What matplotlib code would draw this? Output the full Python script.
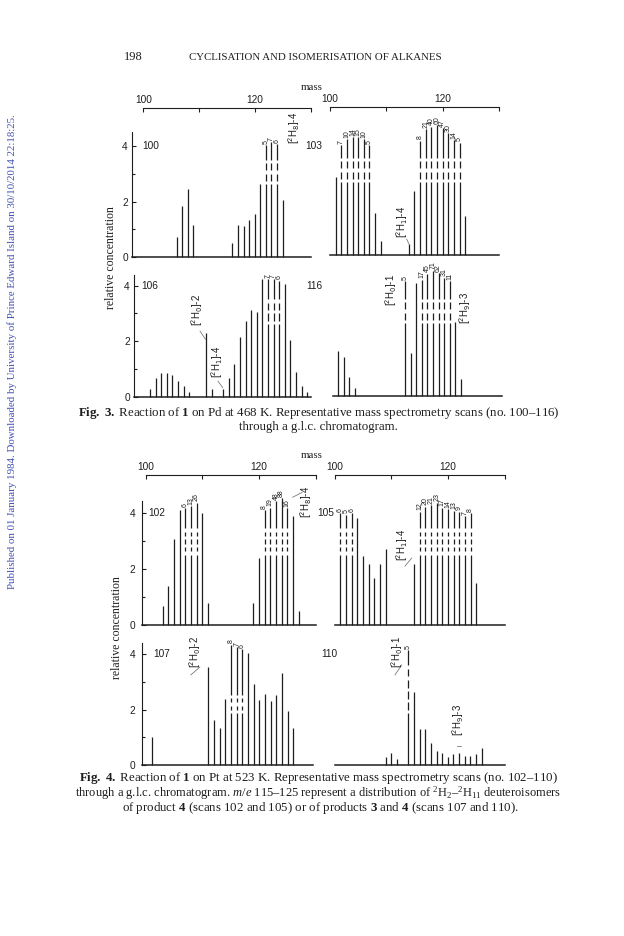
import matplotlib
matplotlib.use("Agg")
import matplotlib.pyplot as plt

# ---------------------------------------------------------------- data
mass_ticks = [100, 110, 120, 130]
mass_ticklabels = ["100", "", "120", ""]
conc_ticks = [0, 2, 4]
conc_minor = [1, 3]

# Fig. 3, scan 100 (top left)
scan100_mass = [106, 107, 108, 109, 116, 117, 118, 119, 120, 121, 122, 123, 124, 125]
scan100_int = [0.72, 1.83, 2.44, 1.14, 0.52, 1.17, 1.12, 1.35, 1.54, 2.64, 4.02, 4.14, 4.06, 2.04]
scan100_lab = ["", "", "", "", "", "", "", "", "", "", "5", "7", "6", ""]

# Fig. 3, scan 103 (top right)
scan103_mass = [101, 102, 103, 104, 105, 106, 107, 108, 109,
                114, 115, 116, 117, 118, 119, 120, 121, 122, 123, 124]
scan103_int = [2.80, 3.96, 4.17, 4.24, 4.24, 4.17, 3.96, 1.50, 0.49,
               0.38, 2.31, 4.11, 4.54, 4.62, 4.67, 4.56, 4.38, 4.14, 4.05, 1.41]
scan103_lab = ["", "7", "10", "14", "15", "10", "5", "", "",
               "", "", "8", "21", "40", "60", "47", "30", "14", "5", ""]

# Fig. 3, scan 106 (bottom left)
scan106_mass = [101, 102, 103, 104, 105, 106, 107, 108, 111, 112,
                114, 115, 116, 117, 118, 119, 120, 121, 122, 123, 124, 125, 126, 127, 128, 129]
scan106_int = [0.28, 0.66, 0.87, 0.87, 0.77, 0.57, 0.37, 0.16, 2.31, 0.28,
               0.28, 0.69, 1.19, 2.14, 2.71, 3.12, 3.04, 4.22, 4.22, 4.22, 4.18, 4.06, 2.04, 0.88, 0.40, 0.18]
scan106_lab = ["", "", "", "", "", "", "", "", "", "",
               "", "", "", "", "", "", "", "", "7", "7", "6", "", "", "", "", ""]

# Fig. 3, scan 116 (bottom right)
scan116_mass = [101, 102, 103, 104, 113, 114, 115, 116, 117, 118, 119, 120, 121, 122, 123]
scan116_int = [1.60, 1.40, 0.70, 0.30, 4.13, 1.53, 4.05, 4.18, 4.40, 4.50, 4.42, 4.25, 4.13, 2.65, 0.60]
scan116_lab = ["", "", "", "", "5", "", "", "17", "45", "71", "62", "31", "11", "", ""]

# Fig. 4, scan 102 (top left)
scan102_mass = [103, 104, 105, 106, 107, 108, 109, 110, 111,
                119, 120, 121, 122, 123, 124, 125, 126, 127]
scan102_int = [0.68, 1.41, 3.10, 4.12, 4.18, 4.26, 4.39, 4.02, 0.78,
               0.78, 2.39, 4.12, 4.20, 4.44, 4.54, 4.18, 3.90, 0.50]
scan102_lab = ["", "", "", "", "6", "13", "26", "", "",
               "", "", "8", "19", "48", "88", "16", "", ""]

# Fig. 4, scan 105 (top right)
scan105_mass = [101, 102, 103, 104, 105, 106, 107, 108, 109,
                114, 115, 116, 117, 118, 119, 120, 121, 122, 123, 124, 125]
scan105_int = [4.00, 3.96, 4.00, 3.82, 2.47, 2.19, 1.67, 2.17, 2.71,
               2.17, 4.06, 4.24, 4.30, 4.39, 4.21, 4.14, 4.10, 4.06, 3.90, 4.00, 1.49]
scan105_lab = ["6", "5", "6", "", "", "", "", "", "",
               "", "12", "20", "21", "23", "17", "14", "13", "9", "7", "8", ""]

# Fig. 4, scan 107 (bottom left)
scan107_mass = [101, 111, 112, 113, 114, 115, 116, 117, 118, 119, 120, 121, 122, 123, 124, 125, 126]
scan107_int = [1.02, 3.53, 1.63, 1.33, 2.37, 4.34, 4.25, 4.18, 4.04, 2.93, 2.33, 2.55, 2.31, 2.53, 3.31, 1.93, 1.33]
scan107_lab = ["", "", "", "", "", "8", "7", "6", "", "", "", "", "", "", "", "", ""]

# Fig. 4, scan 110 (bottom right)
scan110_mass = [109, 110, 111, 113, 114, 115, 116, 117, 118, 119, 120, 121, 122, 123, 124, 125, 126]
scan110_int = [0.30, 0.42, 0.20, 4.15, 2.65, 1.30, 1.30, 0.80, 0.50, 0.42, 0.30, 0.40, 0.42, 0.33, 0.33, 0.40, 0.60]
scan110_lab = ["", "", "", "5", "", "", "", "", "", "", "", "", "", "", "", "", ""]

# ---------------------------------------------------------------- style
W, H = 624, 936
INK = "#1e1e1e"
LEAD = "#707070"

plt.rcParams["font.family"] = ["Liberation Sans", "DejaVu Sans"]
plt.rcParams["mathtext.fontset"] = "custom"
plt.rcParams["mathtext.rm"] = "Liberation Serif"
plt.rcParams["mathtext.it"] = "Liberation Serif:italic"
plt.rcParams["mathtext.bf"] = "Liberation Serif:bold"

fig = plt.figure(figsize=(W / 100, H / 100), dpi=100)
fig.patch.set_facecolor("white")


def P(x, y):
    return x / W, 1 - y / H


def make_panel(l, r, t, b, xlim, ylim):
    ax = fig.add_axes([l / W, 1 - b / H, (r - l) / W, (b - t) / H])
    ax.set_xlim(*xlim)
    ax.set_ylim(*ylim)
    ax.patch.set_visible(False)
    for side in ("left", "right", "top"):
        ax.spines[side].set_visible(False)
    ax.spines["bottom"].set_linewidth(1.1)
    ax.spines["bottom"].set_color(INK)
    ax.set_xticks([])
    ax.set_yticks([])
    return ax


def top_scale(ax, pad):
    sp = ax.spines["top"]
    sp.set_visible(True)
    sp.set_bounds(100, 130)
    sp.set_linewidth(0.8)
    sp.set_color(INK)
    ax.xaxis.set_ticks_position("top")
    ax.set_xticks(mass_ticks)
    ax.set_xticklabels(mass_ticklabels)
    ax.tick_params(axis="x", direction="in", length=3.2, width=0.8, pad=pad,
                   labelsize=7.3, colors=INK)


def left_scale(ax, top, pad):
    sp = ax.spines["left"]
    sp.set_visible(True)
    sp.set_bounds(0, top)
    sp.set_linewidth(0.8)
    sp.set_color(INK)
    ax.set_yticks(conc_ticks)
    ax.set_yticks(conc_minor, minor=True)
    ax.tick_params(axis="y", which="major", direction="in", length=3.0, width=0.8,
                   pad=pad, labelsize=7.3, colors=INK)
    ax.tick_params(axis="y", which="minor", direction="in", length=2.0, width=0.8, colors=INK)


def draw_scan(ax, mass, inten, lab, brk):
    lo, hi, n = brk
    xs, y0s, y1s = [], [], []
    for m, h, t in zip(mass, inten, lab):
        if t:
            g = 0.12
            d = (hi - lo - (n + 1) * g) / n
            segs = [(0, lo)]
            y = lo + g
            for _ in range(n):
                segs.append((y, y + d))
                y += d + g
            segs.append((hi, h))
            for a, b in segs:
                xs.append(m)
                y0s.append(a)
                y1s.append(b)
            ax.annotate(t, (m, h), xytext=(0, 1.0), textcoords="offset points",
                        rotation=90, ha="center", va="bottom", fontsize=5.0,
                        color=INK, annotation_clip=False)
        else:
            xs.append(m)
            y0s.append(0)
            y1s.append(h)
    ax.vlines(xs, y0s, y1s, colors=INK, lw=0.9, clip_on=False)


def scan_label(ax, s, x, y):
    ax.text(x, y, s, ha="center", va="center", fontsize=7.3, color=INK)


def bracket(ax, s, x, y):
    ax.text(x, y, s, rotation=90, ha="center", va="center", fontsize=7.0,
            color=INK, math_fontfamily="dejavusans")


def leader(ax, x0, y0, x1, y1):
    ax.plot([x0, x1], [y0, y1], color=LEAD, lw=0.55, clip_on=False)


# ---------------------------------------------------------------- Fig. 3
ax1 = make_panel(132, 310.5, 108, 257, (97.97, 130.0), (0, 5.37))
top_scale(ax1, 2.5)
left_scale(ax1, 4.5, 3.0)
draw_scan(ax1, scan100_mass, scan100_int, scan100_lab, (2.62, 3.50, 2))
scan_label(ax1, "100", 101.4, 4.0)
bracket(ax1, "[$^2$H$_8$]-4", 127.06, 4.66)

ax2 = make_panel(330, 499, 107, 255, (100, 130), (0, 5.33))
top_scale(ax2, 2.5)
draw_scan(ax2, scan103_mass, scan103_int, scan103_lab, (2.62, 3.50, 2))
scan_label(ax2, "103", 97.16, 3.93)
bracket(ax2, "[$^2$H$_1$]-4", 112.78, 1.19)
leader(ax2, 113.62, 0.57, 114.0, 0.40)

ax3 = make_panel(134, 310.7, 275, 396.7, (98.15, 129.6), (0, 4.38))
left_scale(ax3, 4.38, 3.0)
draw_scan(ax3, scan106_mass, scan106_int, scan106_lab, (2.62, 3.50, 2))
scan_label(ax3, "106", 101.0, 3.98)
bracket(ax3, "[$^2$H$_0$]-2", 109.36, 3.12)
leader(ax3, 109.9, 2.36, 110.9, 2.06)
bracket(ax3, "[$^2$H$_1$]-4", 112.92, 1.25)
leader(ax3, 113.1, 0.56, 113.95, 0.32)

ax4 = make_panel(332.7, 501.5, 275, 396, (100, 130.3), (0, 4.35))
draw_scan(ax4, scan116_mass, scan116_int, scan116_lab, (2.62, 3.50, 2))
scan_label(ax4, "116", 96.64, 3.96)
bracket(ax4, "[$^2$H$_0$]-1", 110.47, 3.81)
bracket(ax4, "[$^2$H$_9$]-3", 123.75, 3.17)

# ---------------------------------------------------------------- Fig. 4
ax5 = make_panel(142, 315.6, 475, 625, (99.38, 130.0), (0, 5.376))
top_scale(ax5, 2.0)
left_scale(ax5, 4.43, 5.0)
draw_scan(ax5, scan102_mass, scan102_int, scan102_lab, (2.52, 3.47, 3))
scan_label(ax5, "102", 102.03, 4.01)
bracket(ax5, "[$^2$H$_8$]-4", 128.3, 4.41)
leader(ax5, 125.96, 4.58, 127.6, 4.75)

ax6 = make_panel(334.8, 504.6, 475, 625, (100, 130), (0, 5.376))
top_scale(ax6, 2.0)
draw_scan(ax6, scan105_mass, scan105_int, scan105_lab, (2.52, 3.47, 3))
scan_label(ax6, "105", 98.45, 4.01)
bracket(ax6, "[$^2$H$_1$]-4", 111.87, 2.87)
leader(ax6, 112.4, 2.11, 113.59, 2.40)

ax7 = make_panel(142, 313, 643.3, 765, (99.29, 129.48), (0, 4.39))
left_scale(ax7, 4.39, 5.0)
draw_scan(ax7, scan107_mass, scan107_int, scan107_lab, (1.87, 2.53, 2))
scan_label(ax7, "107", 102.82, 4.0)
bracket(ax7, "[$^2$H$_0$]-2", 108.65, 4.08)
leader(ax7, 107.9, 3.25, 109.5, 3.53)

ax8 = make_panel(334.9, 505, 643.3, 765, (100, 130.12), (0, 4.39))
draw_scan(ax8, scan110_mass, scan110_int, scan110_lab, (1.87, 3.60, 4))
scan_label(ax8, "110", 98.95, 4.0)
bracket(ax8, "[$^2$H$_0$]-1", 111.09, 4.08)
leader(ax8, 110.64, 3.25, 111.83, 3.61)
bracket(ax8, "[$^2$H$_9$]-3", 121.85, 1.64)
leader(ax8, 121.6, 0.69, 122.4, 0.69)

# ---------------------------------------------------------------- page text
SERIF = "Liberation Serif"
fig.text(*P(312, 87), "mass", ha="center", va="center", family=SERIF, size=7.8, color=INK)
fig.text(*P(312, 455), "mass", ha="center", va="center", family=SERIF, size=7.8, color=INK)
fig.text(*P(111, 258), "relative concentration", rotation=90, ha="center", va="center",
         family=SERIF, size=8.5, color=INK)
fig.text(*P(117, 628), "relative concentration", rotation=90, ha="center", va="center",
         family=SERIF, size=8.5, color=INK)

fig.text(*P(133, 57), "198", ha="center", va="center", family=SERIF, size=9, color=INK)
head = fig.text(*P(315, 57), "CYCLISATION AND ISOMERISATION OF ALKANES", ha="center",
                va="center", family=SERIF, size=7.5, color=INK)
wm = fig.text(*P(12, 352),
              "Published on 01 January 1984. Downloaded by University of Prince Edward Island on 30/10/2014 22:18:25.",
              rotation=90, ha="center", va="center", family=SERIF, size=7, color="#3f4fb2")

cap_kw = dict(ha="center", va="center", family=SERIF, size=8.3, color=INK)
c31 = fig.text(*P(318.5, 413), r"$\mathbf{Fig.\ 3.}$ Reaction of $\mathbf{1}$ on Pd at 468 K. "
               r"Representative mass spectrometry scans (no. 100–116)", **cap_kw)
c32 = fig.text(*P(318.5, 427), "through a g.l.c. chromatogram.", **cap_kw)
c41 = fig.text(*P(318.5, 778), r"$\mathbf{Fig.\ 4.}$ Reaction of $\mathbf{1}$ on Pt at 523 K. "
               r"Representative mass spectrometry scans (no. 102–110)", **cap_kw)
c42 = fig.text(*P(318.5, 793), r"through a g.l.c. chromatogram. $m/e$ 115–125 represent a distribution "
               r"of $^{2}$H$_{2}$–$^{2}$H$_{11}$ deuteroisomers", **cap_kw)
c43 = fig.text(*P(320, 808), r"of product $\mathbf{4}$ (scans 102 and 105) or of products "
               r"$\mathbf{3}$ and $\mathbf{4}$ (scans 107 and 110).", **cap_kw)

renderer = fig.canvas.get_renderer()


def fit(t, target, vertical=False):
    bb = t.get_window_extent(renderer=renderer)
    cur = bb.height if vertical else bb.width
    t.set_fontsize(t.get_fontsize() * target / cur)


fit(c31, 483)
for t in (c32, c41, c43):
    t.set_fontsize(c31.get_fontsize())
fit(c42, 487)
fit(head, 250)
fit(wm, 475, vertical=True)

fig.savefig("out.png", dpi=100, facecolor="white")
